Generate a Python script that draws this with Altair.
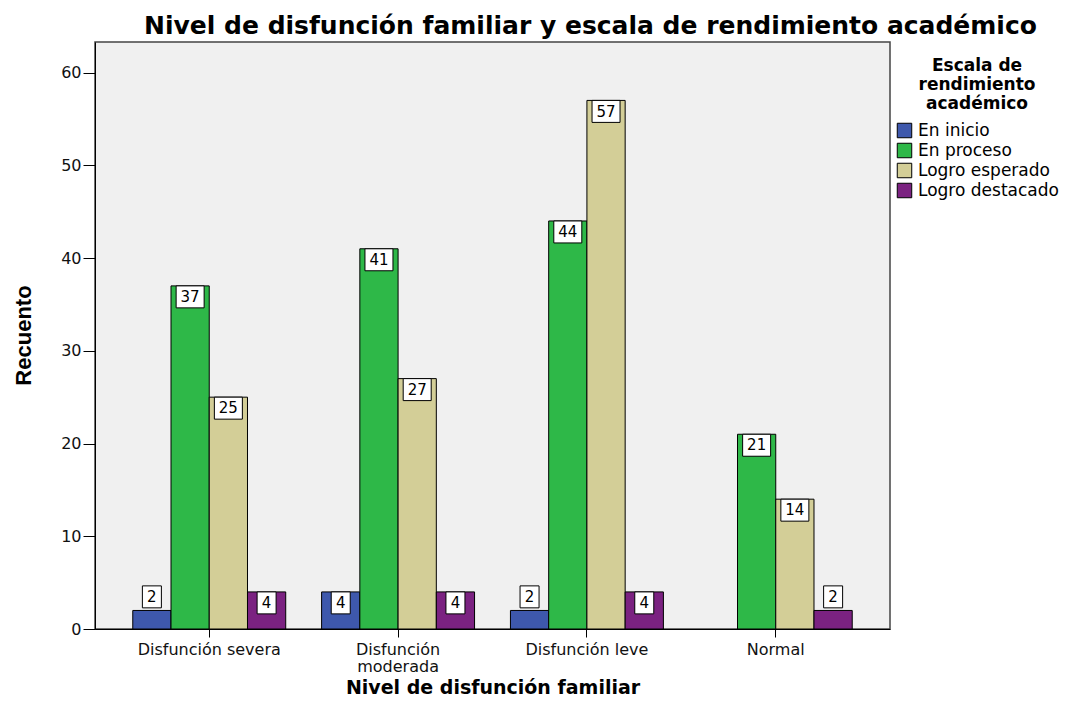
import altair as alt
import pandas as pd

niveles = ["Disfunción severa", "Disfunción moderada", "Disfunción leve", "Normal"]
escalas = ["En inicio", "En proceso", "Logro esperado", "Logro destacado"]
en_inicio = [2, 4, 2, None]
en_proceso = [37, 41, 44, 21]
logro_esperado = [25, 27, 57, 14]
logro_destacado = [4, 4, 4, 2]
colores = ["#3E58AC", "#2EB848", "#D3CE97", "#7B2281"]

series = [en_inicio, en_proceso, logro_esperado, logro_destacado]
rows = []
for esc, vals in zip(escalas, series):
    for niv, v in zip(niveles, vals):
        if v is not None:
            rows.append({"nivel": niv, "escala": esc, "valor": v})
df = pd.DataFrame(rows)

FONT = "DejaVu Sans"
LFONT = "DejaVu Sans"

x_enc = alt.X("nivel:N", sort=niveles,
              scale=alt.Scale(paddingInner=0.19, paddingOuter=0.2),
              axis=alt.Axis(title="Nivel de disfunción familiar",
                            labelAngle=0, tickSize=8, tickColor="black",
                            labelFont=LFONT, labelFontSize=16, labelColor="#111",
                            labelPadding=4, domainColor="black",
                            labelExpr="datum.label == 'Disfunción moderada' ? ['Disfunción', 'moderada'] : datum.label",
                            labelLineHeight=17,
                            titleFont=FONT, titleFontSize=19, titleFontWeight="bold",
                            titleColor="black", titleY=58, titleBaseline="middle"))
xo_enc = alt.XOffset("escala:N", sort=escalas, scale=alt.Scale(domain=escalas, paddingInner=0, paddingOuter=0))
y_scale = alt.Scale(domain=[0, 63.3], nice=False)

bars = alt.Chart(df).mark_bar(stroke="black", strokeWidth=1, opacity=1).encode(
    x=x_enc,
    xOffset=xo_enc,
    y=alt.Y("valor:Q", scale=y_scale,
            axis=alt.Axis(title="Recuento", values=[0, 10, 20, 30, 40, 50, 60],
                          grid=False, tickSize=12, tickColor="black",
                          domainColor="black", labelFont=LFONT, labelFontSize=16,
                          labelColor="#111", labelPadding=2,
                          titleFont="Liberation Sans", titleFontSize=22,
                          titleFontWeight="bold", titleColor="black",
                          titleX=-72, titleY=293, titleBaseline="middle", titleAngle=270)),
    color=alt.Color("escala:N", sort=escalas,
                    scale=alt.Scale(domain=escalas, range=colores),
                    legend=alt.Legend(title=["Escala de", "rendimiento", "académico"],
                                      orient="none", legendX=801, legendY=16,
                                      titleFont=FONT, titleFontSize=17, titleFontWeight="bold",
                                      titleColor="black", titleAlign="center", titleAnchor="middle",
                                      titleLineHeight=19, titlePadding=9,
                                      labelFont=LFONT, labelFontSize=17, labelColor="black",
                                      symbolType="square", symbolSize=210,
                                      symbolStrokeColor="black", symbolStrokeWidth=1,
                                      symbolOpacity=1, rowPadding=1, labelOffset=5)),
)

base_lbl = alt.Chart(df).transform_calculate(
    top="datum.valor >= 3 ? datum.valor : datum.valor + 2.65",
    bot="datum.valor >= 3 ? datum.valor - 2.37 : datum.valor + 0.28",
    mid="datum.valor >= 3 ? datum.valor - 1.2 : datum.valor + 1.45",
)

box2 = base_lbl.transform_filter("datum.valor >= 10").mark_bar(
    width=28, fill="white", stroke="black", strokeWidth=1).encode(
    x=alt.X("nivel:N", sort=niveles), xOffset=alt.XOffset("escala:N", sort=escalas),
    y=alt.Y("top:Q", scale=y_scale), y2="bot:Q")
box1 = base_lbl.transform_filter("datum.valor < 10").mark_bar(
    width=19, fill="white", stroke="black", strokeWidth=1).encode(
    x=alt.X("nivel:N", sort=niveles), xOffset=alt.XOffset("escala:N", sort=escalas),
    y=alt.Y("top:Q", scale=y_scale), y2="bot:Q")
txt = base_lbl.mark_text(font=LFONT, fontSize=15, color="black", baseline="middle").encode(
    x=alt.X("nivel:N", sort=niveles), xOffset=alt.XOffset("escala:N", sort=escalas),
    y=alt.Y("mid:Q", scale=y_scale), text="valor:Q")

chart = alt.layer(bars, box2, box1, txt).properties(
    width=795, height=587,
    padding={"left": 87, "top": 34, "right": 178, "bottom": 72},
    autosize=alt.AutoSizeParams(type="none"),
    title=alt.Title("Nivel de disfunción familiar y escala de rendimiento académico",
                    font=FONT, fontSize=25, fontWeight="bold", color="black",
                    anchor="middle", dx=98, offset=3),
).configure_view(fill="#F0F0F0", stroke="#444", strokeWidth=1.5)

chart.save("out.html", embed_options={"renderer": "svg", "actions": False})
